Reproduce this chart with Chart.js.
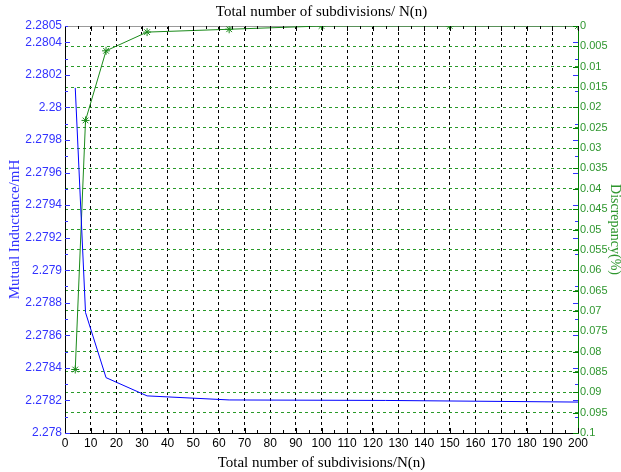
<!DOCTYPE html>
<html>
<head>
<meta charset="utf-8">
<script src="https://cdn.jsdelivr.net/npm/chart.js@4"></script>
<style>
  body { margin: 0; background: #fff; }
  #wrap { width: 621px; height: 472px; }
</style>
</head>
<body>
<div id="wrap"><canvas id="myChart"></canvas></div>
<script>
// data
const blueN = [4, 8, 16, 32, 64, 125, 200]
const inductance = [2.28012, 2.27874, 2.27834, 2.278228, 2.278203, 2.2782, 2.27819]
const greenN = [4, 8, 16, 32, 64, 100, 150, 200]
const discrepancy = [0.0844, 0.0232, 0.0061, 0.0015, 0.0008, 0, 0, 0]

const xTicks = [0, 10, 20, 30, 40, 50, 60, 70, 80, 90, 100, 110, 120, 130, 140, 150, 160, 170, 180, 190, 200]
const leftTicks = [2.278, 2.2782, 2.2784, 2.2786, 2.2788, 2.279, 2.2792, 2.2794, 2.2796, 2.2798, 2.28, 2.2802, 2.2804, 2.2805]
const leftLabels = ['2.278', '2.2782', '2.2784', '2.2786', '2.2788', '2.279', '2.2792', '2.2794', '2.2796', '2.2798', '2.28', '2.2802', '2.2804', '2.2805']
const rightTicks = [0, 0.005, 0.01, 0.015, 0.02, 0.025, 0.03, 0.035, 0.04, 0.045, 0.05, 0.055, 0.06, 0.065, 0.07, 0.075, 0.08, 0.085, 0.09, 0.095, 0.1]
const rightLabels = ['0', '0.005', '0.01', '0.015', '0.02', '0.025', '0.03', '0.035', '0.04', '0.045', '0.05', '0.055', '0.06', '0.065', '0.07', '0.075', '0.08', '0.085', '0.09', '0.095', '0.1']

const blue = '#3333ff'
const green = '#2e962e'
const serif = "'Liberation Serif', 'Times New Roman', serif"
const sans = "'Liberation Sans', Arial, sans-serif"

// little inward tick marks like the original plot
const innerTicks = {
  id: 'innerTicks',
  afterDatasetsDraw(chart) {
    const ctx = chart.ctx
    const a = chart.chartArea
    const x = chart.scales.x
    const y = chart.scales.y
    const y1 = chart.scales.y1
    ctx.save()
    ctx.lineWidth = 1
    ctx.strokeStyle = '#000'
    ctx.beginPath()
    for (let v = 0; v <= 200; v += 5) {
      const px = Math.round(x.getPixelForValue(v)) + 0.5
      const len = v % 10 === 0 ? 5 : 3
      ctx.moveTo(px, a.bottom); ctx.lineTo(px, a.bottom - len)
      ctx.moveTo(px, a.top); ctx.lineTo(px, a.top + len)
    }
    ctx.stroke()

    ctx.strokeStyle = blue
    ctx.beginPath()
    for (let i = 0; i <= 25; i++) {
      const v = 2.278 + i * 0.0001
      const py = Math.round(y.getPixelForValue(v)) + 0.5
      const len = i % 2 === 0 ? 5 : 3
      ctx.moveTo(a.left, py); ctx.lineTo(a.left + len, py)
      ctx.moveTo(a.right, py); ctx.lineTo(a.right - len, py)
    }
    ctx.stroke()

    ctx.strokeStyle = '#008000'
    ctx.beginPath()
    rightTicks.forEach(v => {
      const py = Math.round(y1.getPixelForValue(v)) + 0.5
      ctx.moveTo(a.right, py); ctx.lineTo(a.right - 5, py)
    })
    ctx.stroke()
    ctx.restore()
  }
}

const ctx = document.getElementById('myChart').getContext('2d')
const chart = new Chart(ctx, {
  type: 'line',
  data: {
    datasets: [{
      label: 'Mutual Inductance',
      data: blueN.map((n, i) => ({x: n, y: inductance[i]})),
      yAxisID: 'y',
      xAxisID: 'x',
      borderColor: '#0000ff',
      borderWidth: 1,
      pointRadius: 0,
      tension: 0
    }, {
      label: 'Discrepancy',
      data: greenN.map((n, i) => ({x: n, y: discrepancy[i]})),
      yAxisID: 'y1',
      xAxisID: 'x',
      borderColor: '#1a8a1a',
      backgroundColor: '#1a8a1a',
      borderWidth: 1,
      pointStyle: 'star',
      pointRadius: 4,
      pointBorderWidth: 1,
      tension: 0
    }]
  },
  options: {
    responsive: true,
    maintainAspectRatio: false,
    animation: false,
    layout: { padding: 0 },
    plugins: { legend: { display: false }, tooltip: { enabled: false } },
    scales: {
      x: {
        type: 'linear',
        position: 'bottom',
        min: 0,
        max: 200,
        afterBuildTicks: s => { s.ticks = xTicks.map(v => ({value: v})) },
        afterFit: s => { s.height = 39 },
        ticks: { color: '#000', font: { family: sans, size: 12 }, padding: 3, maxRotation: 0, autoSkip: false },
        grid: { color: '#000', drawTicks: false, lineWidth: 1 },
        border: { color: '#000', dash: [3, 3] },
        title: { display: true, text: 'Total number of subdivisions/N(n)', color: '#000',
          font: { family: serif, size: 15 }, padding: { top: 3, bottom: 0 } }
      },
      x2: {
        type: 'linear',
        position: 'top',
        min: 0,
        max: 200,
        afterFit: s => { s.height = 26 },
        ticks: { display: false },
        grid: { display: false, drawTicks: false },
        border: { color: '#999' },
        title: { display: true, text: 'Total number of subdivisions/ N(n)', color: '#000',
          font: { family: serif, size: 15 }, padding: { top: 3, bottom: 0 } }
      },
      y: {
        type: 'linear',
        position: 'left',
        min: 2.278,
        max: 2.2805,
        afterBuildTicks: s => { s.ticks = leftTicks.map(v => ({value: v})) },
        afterFit: s => { s.width = 65 },
        ticks: { color: blue, font: { family: sans, size: 12 }, padding: 3,
          callback: (v, i) => leftLabels[i] },
        grid: { drawOnChartArea: false, drawTicks: false },
        border: { color: '#000' },
        title: { display: true, text: 'Mutual Inductance/mH', color: blue,
          font: { family: serif, size: 15 }, padding: { top: 6, bottom: 0 } }
      },
      y1: {
        type: 'linear',
        position: 'right',
        reverse: true,
        min: 0,
        max: 0.1,
        afterBuildTicks: s => { s.ticks = rightTicks.map(v => ({value: v})) },
        afterFit: s => { s.width = 43 },
        ticks: { color: green, font: { family: sans, size: 11 }, padding: 2,
          callback: (v, i) => rightLabels[i] },
        grid: { color: '#2a9a2a', drawTicks: false, lineWidth: 1 },
        border: { color: '#008000', dash: [3, 3] },
        title: { display: true, text: 'Discrepancy(%)', color: green,
          font: { family: serif, size: 14, lineHeight: 1 }, padding: { top: -1, bottom: 0 } }
      }
    }
  },
  plugins: [innerTicks]
})
</script>
</body>
</html>
